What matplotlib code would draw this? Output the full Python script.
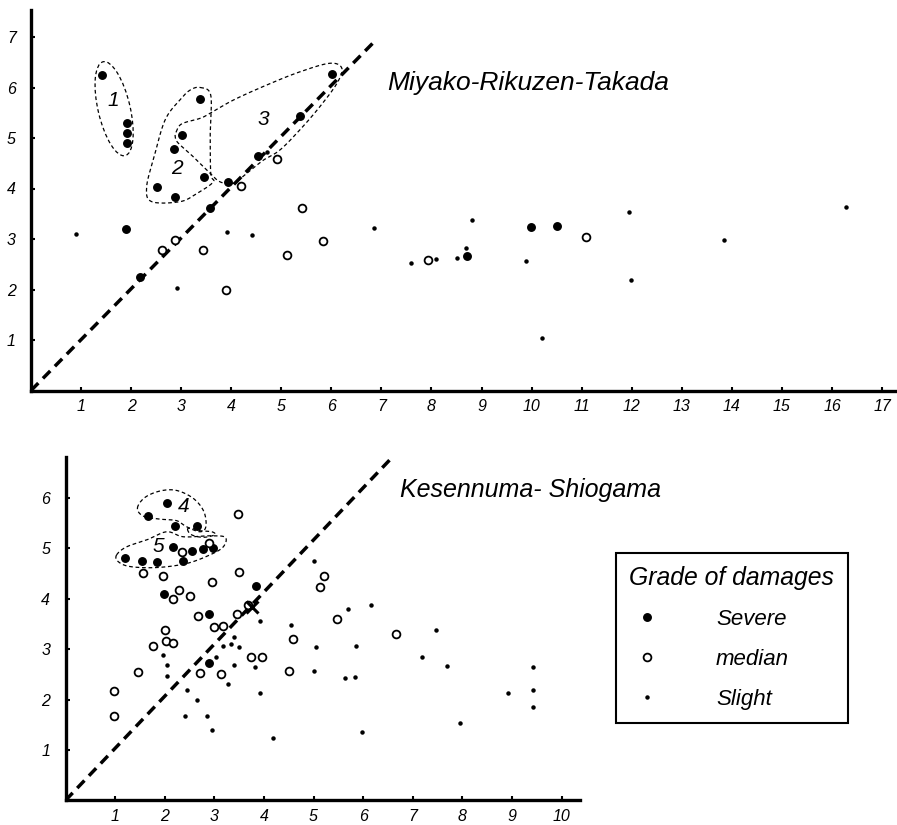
import numpy as np
import matplotlib
matplotlib.use("Agg")
import matplotlib.pyplot as plt
from matplotlib.lines import Line2D
from matplotlib.patches import Ellipse

# ---------------- data: top panel (Miyako - Rikuzen-Takada) ----------------
top_severe_x = [1.41, 1.91, 1.91, 1.91, 3.38, 3.01, 2.86, 3.46, 2.52, 2.88, 3.94, 1.90,
                6.01, 5.37, 4.54, 3.58, 2.18, 9.99, 10.50, 8.71]
top_severe_y = [6.25, 5.29, 5.09, 4.91, 5.77, 5.06, 4.78, 4.22, 4.02, 3.84, 4.13, 3.20,
                6.27, 5.44, 4.64, 3.61, 2.24, 3.24, 3.26, 2.67]
top_median_x = [4.91, 4.19, 5.41, 2.88, 2.61, 3.44, 5.83, 5.11, 3.90, 7.93, 11.09]
top_median_y = [4.58, 4.04, 3.61, 2.99, 2.78, 2.78, 2.96, 2.68, 1.99, 2.58, 3.03]
top_slight_x = [0.90, 2.92, 3.92, 4.41, 4.71, 6.86, 8.80, 11.95, 13.85, 16.29, 7.59,
                8.10, 8.50, 8.68, 9.89, 11.98, 10.20]
top_slight_y = [3.10, 2.02, 3.13, 3.08, 4.73, 3.21, 3.38, 3.54, 2.99, 3.63, 2.52,
                2.60, 2.62, 2.83, 2.56, 2.19, 1.03]
top_xticks = list(range(1, 18))
top_yticks = list(range(1, 8))
top_title = "Miyako-Rikuzen-Takada"

# ---------------- data: bottom panel (Kesennuma - Shiogama) ----------------
bot_severe_x = [1.20, 1.54, 1.85, 2.36, 2.16, 2.56, 2.77, 2.97, 1.67, 2.04, 2.21, 2.66,
                1.99, 2.90, 2.90, 3.85]
bot_severe_y = [4.80, 4.75, 4.74, 4.75, 5.03, 4.95, 4.99, 5.00, 5.65, 5.91, 5.45, 5.45,
                4.10, 3.69, 2.72, 4.26]
bot_median_x = [2.34, 2.90, 1.57, 1.97, 2.95, 3.50, 2.29, 2.16, 2.50, 3.47, 2.67, 3.45,
                3.67, 3.00, 3.18, 2.01, 2.03, 2.17, 1.77, 1.46, 2.71, 3.13, 3.73, 3.97,
                4.51, 4.58, 5.21, 5.14, 5.48, 0.98, 0.98, 6.66]
bot_median_y = [4.92, 5.10, 4.51, 4.46, 4.34, 4.53, 4.17, 3.99, 4.06, 5.68, 3.66, 3.69,
                3.88, 3.45, 3.46, 3.39, 3.17, 3.12, 3.07, 2.55, 2.52, 2.51, 2.85, 2.85,
                2.57, 3.21, 4.45, 4.24, 3.60, 2.17, 1.67, 3.30]
bot_slight_x = [1.97, 2.04, 2.04, 2.44, 2.65, 2.41, 2.85, 2.95, 3.03, 3.27, 3.17, 3.34,
                3.50, 3.40, 3.40, 3.83, 3.92, 3.92, 4.18, 4.55, 5.00, 5.05, 5.00, 5.69,
                5.64, 5.84, 6.15, 5.86, 5.98, 7.18, 7.47, 7.69, 7.95, 8.92, 9.43, 9.42, 9.43]
bot_slight_y = [2.88, 2.69, 2.47, 2.19, 1.99, 1.68, 1.68, 1.40, 2.85, 2.30, 3.07, 3.10,
                3.04, 3.25, 2.69, 2.64, 3.55, 2.14, 1.23, 3.49, 4.75, 3.04, 2.57, 3.80,
                2.42, 2.45, 3.88, 3.07, 1.36, 2.85, 3.39, 2.67, 1.54, 2.14, 2.65, 2.20, 1.86]
bot_cross_x = [3.75]
bot_cross_y = [3.84]
bot_xticks = list(range(1, 11))
bot_yticks = list(range(1, 7))
bot_title = "Kesennuma- Shiogama"

legend_title = "Grade of damages"
legend_labels = ["Severe", "median", "Slight"]

# diagonal reference lines (end points)
top_diag_x = [0, 6.86]
top_diag_y = [0, 6.91]
bot_diag_x = [0, 6.57]
bot_diag_y = [0, 6.79]

# group outlines (hand-drawn dashed loops)
grp2_x = [3.38, 3.59, 3.58, 3.59, 3.64, 3.31, 2.98, 2.41, 2.31, 2.46, 2.68, 2.98, 3.18]
grp2_y = [6.00, 5.85, 5.09, 4.30, 4.13, 3.90, 3.74, 3.74, 4.03, 4.63, 5.36, 5.76, 5.95]
grp3_x = [2.90, 3.01, 3.38, 3.58, 4.04, 4.71, 5.37, 5.97, 6.21, 6.11, 5.77, 5.37, 4.97,
          4.64, 4.31, 4.04, 3.78, 3.58, 3.24, 2.94, 2.88]
grp3_y = [5.12, 5.28, 5.39, 5.49, 5.75, 6.05, 6.31, 6.48, 6.38, 6.08, 5.62, 5.16, 4.76,
          4.56, 4.30, 4.10, 4.13, 4.30, 4.63, 4.90, 5.03]
grp4_x = [1.45, 1.60, 1.91, 2.24, 2.58, 2.79, 2.83, 2.71, 2.44, 2.24, 1.91, 1.57]
grp4_y = [5.80, 6.01, 6.14, 6.15, 5.99, 5.73, 5.43, 5.33, 5.43, 5.55, 5.58, 5.64]
grp5_x = [1.03, 1.23, 1.64, 2.04, 2.38, 2.91, 3.22, 3.18, 2.91, 2.44, 1.84, 1.30, 1.06]
grp5_y = [4.87, 5.03, 5.17, 5.33, 5.23, 5.25, 5.22, 5.03, 4.87, 4.70, 4.62, 4.64, 4.74]
grp5b_x = [2.46, 2.54, 2.78, 3.01, 2.95, 2.71, 2.54]
grp5b_y = [5.38, 5.27, 5.22, 5.27, 5.33, 5.35, 5.40]


def smooth_closed(xs, ys, n=24):
    P = np.column_stack([xs, ys]).astype(float)
    N = len(P)
    t = np.linspace(0, 1, n, endpoint=False)[:, None]
    segs = []
    for i in range(N):
        p0, p1, p2, p3 = P[i - 1], P[i], P[(i + 1) % N], P[(i + 2) % N]
        segs.append(0.5 * ((2 * p1) + (-p0 + p2) * t + (2 * p0 - 5 * p1 + 4 * p2 - p3) * t ** 2
                           + (-p0 + 3 * p1 - 3 * p2 + p3) * t ** 3))
    out = np.vstack(segs + [segs[0][:1]])
    return out[:, 0], out[:, 1]


W, H = 897, 825
fig = plt.figure(figsize=(W / 100, H / 100), dpi=100)
fig.patch.set_facecolor("white")

HAND = ["Liberation Sans", "DejaVu Sans"]

def axes_px(left, bottom_px, right, top_px):
    return fig.add_axes([left / W, 1 - bottom_px / H, (right - left) / W, (bottom_px - top_px) / H])

ax1 = axes_px(31, 390.5, 897, 10)
ax2 = axes_px(65.5, 800.4, 580, 456.7)
ax1.set_xlim(0, (897 - 31) / 50.06)
ax1.set_ylim(0, (390.5 - 10) / 50.5)
ax2.set_xlim(0, (580 - 65.5) / 49.6)
ax2.set_ylim(0, (800.4 - 456.7) / 50.4)

tick_font = dict(fontsize=11.5, fontstyle="italic", family=HAND)
for ax, xt, yt in [(ax1, top_xticks, top_yticks), (ax2, bot_xticks, bot_yticks)]:
    ax.set_facecolor("none")
    for s in ["top", "right"]:
        ax.spines[s].set_visible(False)
    for s in ["left", "bottom"]:
        ax.spines[s].set_linewidth(2.4)
        ax.spines[s].set_color("black")
    ax.set_xticks(xt)
    ax.set_yticks(yt)
    ax.set_xticklabels([str(v) for v in xt], **tick_font)
    ax.set_yticklabels([str(v) for v in yt], **tick_font)
    ax.tick_params(direction="in", length=3, width=1.5, pad=6, colors="black")
    ax.tick_params(axis="y", pad=11)

sev_kw = dict(marker="o", linestyle="none", markersize=5.4, color="black", zorder=5)
med_kw = dict(marker="o", linestyle="none", markersize=5.6, markerfacecolor="white",
              markeredgecolor="black", markeredgewidth=1.3, zorder=5)
sl_kw = dict(marker="o", linestyle="none", markersize=2.2, color="black", zorder=5)
diag_kw = dict(color="black", linewidth=2.5, dashes=(3.0, 1.9), zorder=3, solid_capstyle="butt")
grp_kw = dict(color="black", linewidth=0.9, dashes=(3, 2.2), zorder=4)

# top panel
ax1.plot(top_diag_x, top_diag_y, **diag_kw)
ax1.plot(top_severe_x, top_severe_y, **sev_kw)
ax1.plot(top_median_x, top_median_y, **med_kw)
ax1.plot(top_slight_x, top_slight_y, **sl_kw)
ax1.add_patch(Ellipse((1.66, 5.58), width=1.91, height=0.64, angle=103.3, fill=False,
                      edgecolor="black", linewidth=0.9, linestyle=(0, (3, 2.2)), zorder=4))
for gx, gy in [(grp2_x, grp2_y), (grp3_x, grp3_y)]:
    sx, sy = smooth_closed(gx, gy)
    ax1.plot(sx, sy, **grp_kw)
lab_font = dict(fontsize=15, fontstyle="italic", ha="center", va="center", family=HAND)
ax1.text(1.64, 5.75, "1", **lab_font)
ax1.text(2.91, 4.40, "2", **lab_font)
ax1.text(4.64, 5.36, "3", **lab_font)

# bottom panel
ax2.plot(bot_diag_x, bot_diag_y, **diag_kw)
ax2.plot(bot_severe_x, bot_severe_y, **sev_kw)
ax2.plot(bot_median_x, bot_median_y, **med_kw)
ax2.plot(bot_slight_x, bot_slight_y, **sl_kw)
ax2.plot(bot_cross_x, bot_cross_y, marker="x", linestyle="none", markersize=8,
         markeredgewidth=2.2, color="black", zorder=5)
for gx, gy in [(grp4_x, grp4_y), (grp5_x, grp5_y), (grp5b_x, grp5b_y)]:
    sx, sy = smooth_closed(gx, gy)
    ax2.plot(sx, sy, **grp_kw)
ax2.text(2.38, 5.83, "4", **lab_font)
ax2.text(1.87, 5.03, "5", **lab_font)

# titles
fig.text(387 / W, 1 - 83 / H, top_title, fontsize=19, fontstyle="italic", family=HAND,
         va="center", ha="left")
fig.text(400 / W, 1 - 490 / H, bot_title, fontsize=18, fontstyle="italic", family=HAND,
         va="center", ha="left")

# legend
handles = [Line2D([], [], **sev_kw), Line2D([], [], **med_kw), Line2D([], [], **sl_kw)]
leg = fig.legend(handles, legend_labels, title=legend_title, loc="upper left",
                 bbox_to_anchor=(616 / W, 1 - 553 / H), frameon=True, fancybox=False,
                 edgecolor="black", framealpha=1, borderpad=0.6, handlelength=1.6,
                 handletextpad=2.3, labelspacing=0.85, alignment="left",
                 prop=dict(size=16, style="italic", family=HAND),
                 title_fontproperties=dict(size=17.8, style="italic", family=HAND),
                 borderaxespad=0)
leg.get_frame().set_linewidth(1.5)

fig.savefig("out.png", dpi=100, facecolor="white")
